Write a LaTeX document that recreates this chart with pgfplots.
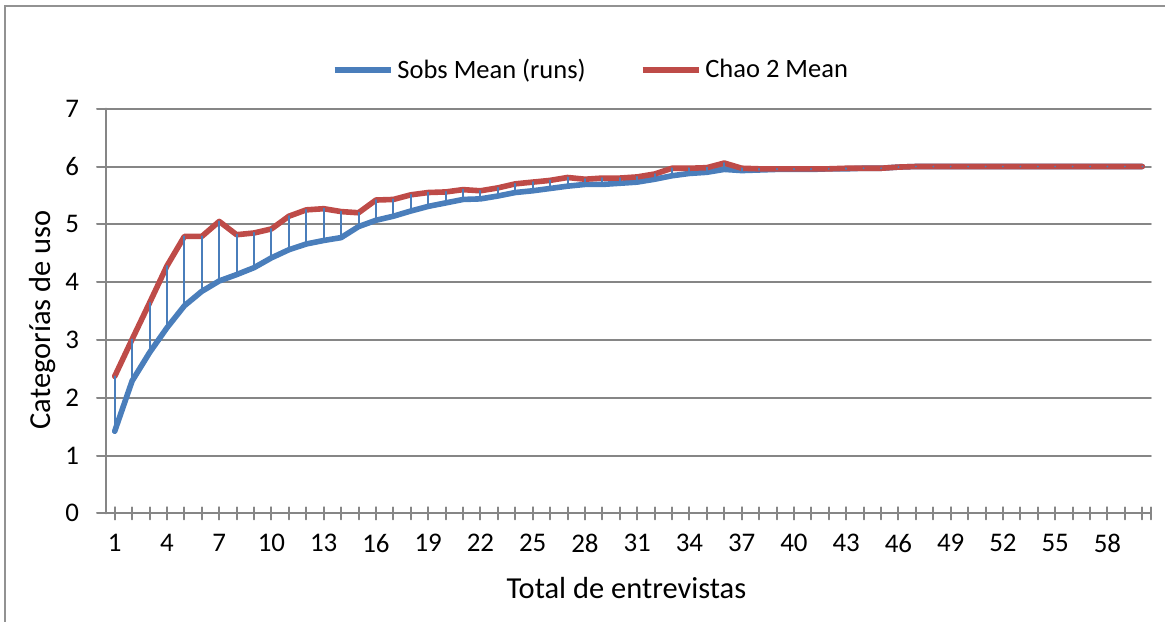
\documentclass[border=0pt]{standalone}
\usepackage{pgfplots}
\pgfplotsset{compat=1.18}
\usepackage{pgfplotstable}
\usepackage{fontspec}
\setmainfont{Carlito}
\definecolor{sblue}{HTML}{4A7EBB}
\definecolor{cred}{HTML}{BE4B48}
\definecolor{gridgray}{HTML}{868686}

\pgfplotstableread{
x s c
1 1.42 2.37
2 2.29 3.01
3 2.78 3.64
4 3.21 4.28
5 3.59 4.79
6 3.84 4.79
7 4.02 5.05
8 4.13 4.82
9 4.25 4.85
10 4.42 4.92
11 4.56 5.14
12 4.66 5.25
13 4.72 5.27
14 4.77 5.22
15 4.96 5.20
16 5.07 5.42
17 5.14 5.43
18 5.23 5.51
19 5.31 5.55
20 5.37 5.56
21 5.43 5.60
22 5.44 5.58
23 5.49 5.63
24 5.55 5.70
25 5.58 5.73
26 5.62 5.76
27 5.66 5.81
28 5.69 5.78
29 5.69 5.80
30 5.71 5.80
31 5.73 5.82
32 5.78 5.87
33 5.84 5.97
34 5.88 5.97
35 5.90 5.98
36 5.95 6.06
37 5.93 5.97
38 5.94 5.96
39 5.95 5.96
40 5.95 5.96
41 5.95 5.96
42 5.96 5.96
43 5.96 5.97
44 5.97 5.97
45 5.97 5.97
46 5.99 5.99
47 6.00 6.00
48 6.00 6.00
49 6.00 6.00
50 6.00 6.00
51 6.00 6.00
52 6.00 6.00
53 6.00 6.00
54 6.00 6.00
55 6.00 6.00
56 6.00 6.00
57 6.00 6.00
58 6.00 6.00
59 6.00 6.00
60 6.00 6.00
}\data

\begin{document}
\begin{tikzpicture}
\useasboundingbox (0,0) rectangle (582.5bp,311bp);
\draw[gridgray!90, line width=1bp] (2.6bp,-10bp) -- (2.6bp,308bp) -- (600bp,308bp);
\begin{axis}[
  at={(53bp,54.35bp)}, anchor=south west,
  scale only axis, width=522.5bp, height=202.3bp,
  xmin=0.5, xmax=60.5, ymin=0, ymax=7,
  axis lines*=left,
  axis line style={gridgray, line width=1bp},
  ytick={0,...,7},
  ymajorgrids,
  grid style={gridgray, line width=1bp},
  xtick={1,4,...,58},
  minor xtick={1,...,60},
  extra x ticks={60.5}, extra x tick labels={},
  tick align=center,
  major tick length=6bp, minor tick length=6bp,
  tick style={gridgray, line width=1bp},
  ytick style={xshift=-1.5bp},
  /pgf/number format/assume math mode=true,
  ticklabel style={font=\fontsize{13.5}{16}\selectfont, text=black},
  yticklabel style={xshift=-7bp},
  xticklabel style={yshift=-4bp},
  xlabel={Total de entrevistas},
  ylabel={Categorías de uso},
  label style={font=\fontsize{15.3}{18}\selectfont},
  xlabel style={at={(axis description cs:0.498,-0.1846)}, anchor=center},
  ylabel style={at={(axis description cs:-0.0612,0.478)}, anchor=center},
  legend columns=2,
  legend style={at={(axis description cs:0.465,1.0957)}, anchor=center, draw=none,
    font=\fontsize{13.3}{16}\selectfont, inner sep=0pt,
    /tikz/every even column/.append style={column sep=25bp}},
  legend image code/.code={\draw[#1] (0bp,0bp) -- (28bp,0bp);},
  line join=round, line cap=round,
]
\addplot[sblue, line width=2.8bp, mark=none] table[x=x, y=s] {\data};
\addlegendentry{Sobs Mean (runs)}
\addplot[cred, line width=2.8bp, mark=none] table[x=x, y=c] {\data};
\addlegendentry{Chao 2 Mean}
\addplot[draw=none, mark=none, forget plot,
  error bars/.cd, y dir=plus, y explicit, error mark=none,
  error bar style={sblue, line width=1bp}]
  table[x=x, y=s, y error expr=\thisrow{c}-\thisrow{s}] {\data};
\end{axis}
\end{tikzpicture}
\end{document}
